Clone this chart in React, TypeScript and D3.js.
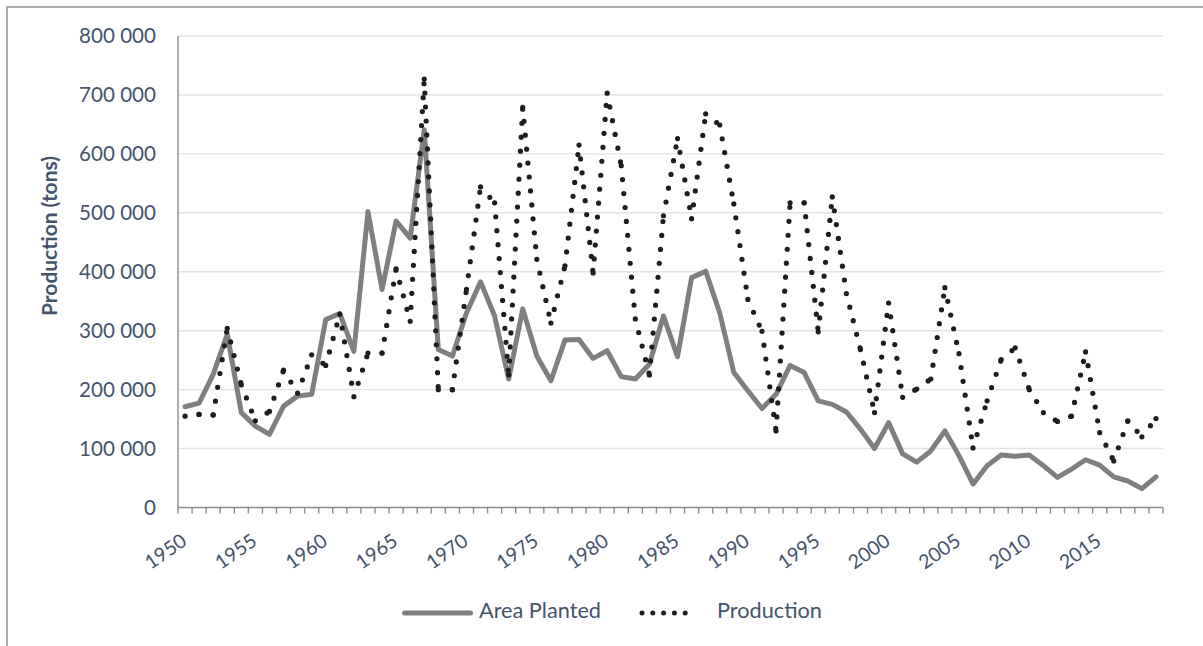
import React, { useEffect, useRef } from "react";
import * as d3 from "d3";

const years: number[] = d3.range(1950, 2020);
const xTickYears: number[] = [1950, 1955, 1960, 1965, 1970, 1975, 1980, 1985, 1990, 1995, 2000, 2005, 2010, 2015];
const yTicks: number[] = [0, 100000, 200000, 300000, 400000, 500000, 600000, 700000, 800000];

const areaPlanted: number[] = [
  171000, 177000, 226000, 294000, 161000, 138000, 124000, 172000, 189000, 192000,
  319000, 329000, 265000, 502000, 370000, 486000, 457000, 641000, 268000, 257000,
  330000, 383000, 325000, 218000, 337000, 257000, 215000, 284000, 285000, 253000,
  266000, 222000, 218000, 243000, 325000, 256000, 390000, 401000, 330000, 229000,
  198000, 168000, 192000, 241000, 229000, 181000, 175000, 162000, 133000, 100000,
  144000, 91000, 77000, 96000, 130000, 88000, 40000, 71000, 89000, 87000,
  89000, 71000, 51000, 65000, 81000, 72000, 52000, 45000, 32000, 52000,
];

const production: number[] = [
  155000, 158000, 157000, 304000, 208000, 147000, 163000, 233000, 194000, 259000,
  241000, 328000, 188000, 262000, 262000, 405000, 316000, 727000, 200000, 200000,
  370000, 544000, 517000, 225000, 679000, 421000, 313000, 410000, 615000, 398000,
  703000, 580000, 320000, 225000, 495000, 626000, 490000, 668000, 649000, 515000,
  353000, 299000, 130000, 517000, 517000, 298000, 527000, 363000, 268000, 161000,
  347000, 187000, 201000, 218000, 373000, 261000, 101000, 181000, 251000, 271000,
  200000, 161000, 146000, 155000, 264000, 127000, 79000, 147000, 120000, 151000,
];

const seriesNames: string[] = ["Area Planted", "Production"];
const yTitle = "Production (tons)";

export default function App() {
  const ref = useRef<SVGSVGElement>(null);

  useEffect(() => {
    const draw = () => {
      const svg = d3.select(ref.current as SVGSVGElement);
      svg.selectAll("*").remove();
      const font = "Lato, 'Open Sans', sans-serif";
      const textColor = "#44546a";

      const measure = (txt: string, weight: number) => {
        const t = svg
          .append("text")
          .attr("font-family", font)
          .attr("font-size", 100)
          .attr("font-weight", weight)
          .text(txt);
        const len = (t.node() as SVGTextElement).getComputedTextLength();
        t.remove();
        return len || 1;
      };
      const fit = (txt: string, weight: number, target: number) => (100 * target) / measure(txt, weight);

      const tickSize = fit("800 000", 400, 77);
      const xSize = fit("1955", 400, 45.5);
      const legSize = fit("Production", 400, 105);
      const titleSize = fit(yTitle, 700, 160);

      const x = d3.scaleBand<number>().domain(years).range([178, 1163]).padding(0);
      const cx = (yr: number) => (x(yr) as number) + x.bandwidth() / 2;
      const y = d3.scaleLinear().domain([0, 800000]).range([507.5, 36]);

      // outer border
      svg
        .append("rect")
        .attr("x", 7)
        .attr("y", 7)
        .attr("width", 1400)
        .attr("height", 800)
        .attr("fill", "none")
        .attr("stroke", "#898989")
        .attr("stroke-width", 1.4);

      // gridlines
      svg
        .append("g")
        .selectAll("line")
        .data(yTicks.filter((v) => v > 0))
        .join("line")
        .attr("x1", 178)
        .attr("x2", 1163)
        .attr("y1", (d) => y(d))
        .attr("y2", (d) => y(d))
        .attr("stroke", "#dfe3e8")
        .attr("stroke-width", 1.4);

      // y tick labels
      const fmt = (v: number) => d3.format(",")(v).replace(/,/g, " ");
      svg
        .append("g")
        .selectAll("text")
        .data(yTicks)
        .join("text")
        .attr("x", 156)
        .attr("y", (d) => y(d) + tickSize * 0.36)
        .attr("text-anchor", "end")
        .attr("font-family", font)
        .attr("font-size", tickSize)
        .attr("fill", textColor)
        .text((d) => fmt(d));

      // y title
      svg
        .append("text")
        .attr("transform", `translate(48,236) rotate(-90)`)
        .attr("text-anchor", "middle")
        .attr("dominant-baseline", "central")
        .attr("font-family", font)
        .attr("font-weight", 700)
        .attr("font-size", titleSize)
        .attr("fill", textColor)
        .text(yTitle);

      // axes
      svg
        .append("line")
        .attr("x1", 178)
        .attr("x2", 178)
        .attr("y1", y(800000))
        .attr("y2", y(0))
        .attr("stroke", "#8c8c8c")
        .attr("stroke-width", 1.4);
      const bounds = years.map((yr) => x(yr) as number).concat([1163]);
      svg
        .append("g")
        .selectAll("line")
        .data(bounds)
        .join("line")
        .attr("x1", (d) => d)
        .attr("x2", (d) => d)
        .attr("y1", y(0))
        .attr("y2", y(0) + 6)
        .attr("stroke", "#8c8c8c")
        .attr("stroke-width", 1.4);
      svg
        .append("line")
        .attr("x1", 178)
        .attr("x2", 1163)
        .attr("y1", y(0))
        .attr("y2", y(0))
        .attr("stroke", "#8c8c8c")
        .attr("stroke-width", 1.4);

      // x labels
      svg
        .append("g")
        .selectAll("text")
        .data(xTickYears)
        .join("text")
        .attr("transform", (d) => `translate(${cx(d) + 3},544) rotate(-35)`)
        .attr("text-anchor", "end")
        .attr("font-family", font)
        .attr("font-size", xSize)
        .attr("fill", textColor)
        .text((d) => String(d));

      // area planted line
      const line = d3
        .line<number>()
        .x((_, i) => cx(years[i]))
        .y((d) => y(d));
      svg
        .append("path")
        .attr("d", line(areaPlanted) as string)
        .attr("fill", "none")
        .attr("stroke", "#7f7f7f")
        .attr("stroke-width", 5)
        .attr("stroke-linejoin", "round")
        .attr("stroke-linecap", "round");

      // production dotted line, pattern restarting at each segment
      const segs = d3.pairs(production.map((v, i) => [cx(years[i]), y(v)] as [number, number]));
      const pg = svg.append("g");
      pg.selectAll("path")
        .data(segs)
        .join("path")
        .attr("d", (s) => `M${s[0][0]},${s[0][1]}L${s[1][0]},${s[1][1]}`)
        .attr("fill", "none")
        .attr("stroke", "#1e1e1e")
        .attr("stroke-width", 5.2)
        .attr("stroke-linecap", "round")
        .attr("stroke-dasharray", "0 14");
      const last = production.length - 1;
      pg.append("circle")
        .attr("cx", cx(years[last]))
        .attr("cy", y(production[last]))
        .attr("r", 2.6)
        .attr("fill", "#1e1e1e");

      // legend
      const lg = svg.append("g");
      lg.append("line")
        .attr("x1", 404.5)
        .attr("x2", 470.5)
        .attr("y1", 613)
        .attr("y2", 613)
        .attr("stroke", "#7f7f7f")
        .attr("stroke-width", 5)
        .attr("stroke-linecap", "round");
      lg.append("text")
        .attr("x", 479)
        .attr("y", 618)
        .attr("font-family", font)
        .attr("font-size", legSize)
        .attr("fill", textColor)
        .text(seriesNames[0]);
      lg.append("path")
        .attr("d", "M642,613L696,613")
        .attr("stroke", "#1e1e1e")
        .attr("stroke-width", 5)
        .attr("stroke-linecap", "round")
        .attr("stroke-dasharray", "0 10.8");
      lg.append("text")
        .attr("x", 717)
        .attr("y", 618)
        .attr("font-family", font)
        .attr("font-size", legSize)
        .attr("fill", textColor)
        .text(seriesNames[1]);
    };
    draw();
    if ((document as any).fonts && (document as any).fonts.ready) {
      (document as any).fonts.ready.then(draw);
    }
  }, []);

  return (
    <svg
      ref={ref}
      width={1203}
      height={646}
      style={{ position: "absolute", left: 0, top: 0, background: "#fff" }}
    />
  );
}
